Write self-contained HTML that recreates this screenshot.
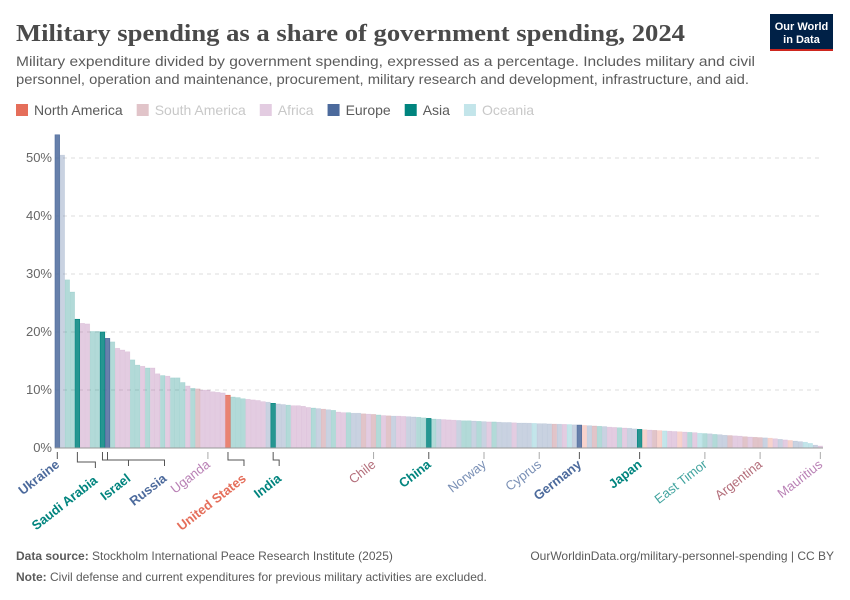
<!DOCTYPE html>
<html><head><meta charset="utf-8"><style>
body{margin:0;background:#fff;font-family:"Liberation Sans",sans-serif;}
#wrap{position:relative;width:850px;height:600px;overflow:hidden;}
</style></head><body>
<div id="wrap">
<svg id="svg" width="850" height="600" xmlns="http://www.w3.org/2000/svg">
<text x="16" y="41" font-family="Liberation Serif,serif" font-size="24" font-weight="bold" fill="#4a4a4a" textLength="669" lengthAdjust="spacingAndGlyphs">Military spending as a share of government spending, 2024</text>
<text x="16" y="66" font-size="14" fill="#5b5b5b" textLength="739" lengthAdjust="spacingAndGlyphs">Military expenditure divided by government spending, expressed as a percentage. Includes military and civil</text>
<text x="16" y="84" font-size="14" fill="#5b5b5b" textLength="733" lengthAdjust="spacingAndGlyphs">personnel, operation and maintenance, procurement, military research and development, infrastructure, and aid.</text>
<g>
<rect x="770" y="14" width="63" height="37" fill="#002147"/>
<rect x="770" y="49" width="63" height="2" fill="#ce261e"/>
<text x="801.5" y="30" font-size="11" fill="#fff" text-anchor="middle" font-weight="bold">Our World</text>
<text x="801.5" y="43" font-size="11" fill="#fff" text-anchor="middle" font-weight="bold">in Data</text>
</g>
<g id="legend"></g>
<g id="grid"></g>
<g id="bars"></g>
<g id="labels"></g>
<text x="16" y="560" font-size="12" fill="#5b5b5b"><tspan font-weight="bold">Data source:</tspan> Stockholm International Peace Research Institute (2025)</text>
<text x="834" y="560" font-size="12" fill="#5b5b5b" text-anchor="end">OurWorldinData.org/military-personnel-spending | CC BY</text>
<text x="16" y="581" font-size="12" fill="#5b5b5b"><tspan font-weight="bold">Note:</tspan> Civil defense and current expenditures for previous military activities are excluded.</text>
</svg>
</div>
<script>
const values=[54,50.5,29,26.9,22.2,21.5,21.4,20.1,20.1,20.0,18.9,18.3,17.2,16.9,16.6,15.2,14.3,14.1,13.8,13.8,12.8,12.5,12.4,12.1,12.1,11.3,10.7,10.3,10.2,10.0,10.0,9.7,9.6,9.5,9.1,8.8,8.7,8.5,8.4,8.3,8.2,8.0,7.9,7.7,7.6,7.5,7.4,7.3,7.3,7.2,
7.0,6.9,6.8,6.7,6.6,6.5,6.2,6.1,6.1,6.0,6.0,5.9,5.85,5.8,5.7,5.6,5.55,5.5,5.5,5.45,5.4,5.35,5.3,5.2,5.1,5.0,4.95,4.9,4.85,4.8,4.75,4.7,4.7,4.65,4.6,4.55,4.5,4.5,4.45,4.4,4.4,4.35,4.3,4.3,4.28,4.25,4.2,4.2,4.15,4.12,
4.1,4.08,4.05,4.0,3.95,3.9,3.85,3.8,3.75,3.7,3.6,3.55,3.5,3.45,3.4,3.3,3.2,3.15,3.1,3.05,3.0,2.95,2.9,2.85,2.8,2.75,2.7,2.65,2.55,2.5,2.45,2.35,2.3,2.2,2.15,2.1,2.05,1.95,1.9,1.85,1.8,1.75,1.7,1.6,1.5,1.4,1.3,1.2,1.1,1.0,0.8,0.5,0.35];
const regionCodes="EEAAAFFAAAEAFFFAAFAFFAFAAAFASFFFFFNAAAFFFFEAEEAFFFFAESEAFFAEESFSAFSEFFEEAAFAEFFFEAAEAAFAEEEFEEEOFEESEFOEENESAEFFAFEEFNFSNOFFNFAFOEEAEESFFSFSAENFEFNEEOOEFENFF";
const highlighted=[0,4,9,10,34,43,74,104,116];
const labelNames=["Ukraine","Saudi Arabia","Israel","Russia","Uganda","United States","India","Chile","China","Norway","Cyprus","Germany","Japan","East Timor","Argentina","Mauritius"];
const labelIndex=[0,4,9,10,30,34,43,63,74,85,96,104,116,129,140,152];
const labelRegion=["E","A","A","E","F","N","A","S","A","E","E","E","A","A","S","F"];
const yTicks=[0,10,20,30,40,50];
const legendNames=["North America","South America","Africa","Europe","Asia","Oceania"];
const legendCodes=["N","S","F","E","A","O"];
const colors={N:"#e56e5a",S:"#9a3c4d",F:"#a2559c",E:"#4c6a9c",A:"#00847e",O:"#38aaba"};
const NS="http://www.w3.org/2000/svg";
const X0=55,STEP=5.02,BW=4.6,Y0=448,PX=5.8;
const xS=i=>X0+i*STEP;
const yS=v=>Y0-v*PX;
function mk(tag,attrs,parent){const e=document.createElementNS(NS,tag);for(const k in attrs)e.setAttribute(k,attrs[k]);parent.appendChild(e);return e;}
const regions=regionCodes.split("");
labelIndex.forEach((ix,j)=>{regions[ix]=labelRegion[j];});
const lg=document.getElementById("legend");let lx=16;
legendNames.forEach((n,i)=>{
 const g=mk("g",{},lg);
 
 
 const hl=["N","E","A"].includes(legendCodes[i]);
 mk("rect",{x:lx,y:104,width:12,height:12,fill:colors[legendCodes[i]],opacity:hl?1:0.3},g);
 const t=mk("text",{x:lx+18,y:115,"font-size":14,fill:hl?"#5b5b5b":"#c8c8c8"},g);t.textContent=n;
 lx+=18+t.getComputedTextLength()+14;
});
const gg=document.getElementById("grid");
yTicks.forEach(v=>{
 const y=yS(v);
 if(v>0){const l=mk("line",{x1:55,x2:822,y1:y,y2:y,stroke:"#ddd","stroke-dasharray":"4,4"},gg);
 
 }
 const t=mk("text",{x:52,y:y+4,"font-size":13,fill:"#666","text-anchor":"end"},gg);
 
 
 t.textContent=v+"%";
});
const bg=document.getElementById("bars");
values.forEach((v,i)=>{
 const r=regions[i]||"F";const hl=highlighted.includes(i);
 const b=mk("rect",{x:xS(i),y:yS(v),width:BW,height:Y0-yS(v),fill:colors[r],"fill-opacity":hl?0.85:0.3,stroke:colors[r],"stroke-opacity":hl?1:0.15,"stroke-width":0.6},bg);
 
 
});
mk("line",{x1:55,x2:823,y1:Y0,y2:Y0,stroke:"#999"},bg);
const lbl=document.getElementById("labels");
const offs={"Saudi Arabia":[18,16],"Israel":[26,14],"Russia":[57,14],"United States":[16,14],"India":[6,14]};
labelNames.forEach((n,j)=>{
 const ix=labelIndex[j];const cx=xS(ix)+BW/2;const hl=highlighted.includes(ix);
 const col=colors[labelRegion[j]];
 const o=offs[n]||[0,0];
 const tl=mk("path",{d:o[0]?`M${cx} 452 V${452+o[1]-6} H${cx+o[0]} V${452+o[1]}`:`M${cx} 452 V459`,fill:"none",stroke:hl?"#555":"#aaa"},lbl);
 
 
 const ax=cx+o[0]+3,ay=466+o[1];
 const t=mk("text",{x:ax,y:ay,"font-size":13,fill:col,"fill-opacity":hl?1:0.75,"text-anchor":"end","font-weight":hl?"bold":"normal",transform:`rotate(-38 ${ax} ${ay})`},lbl);
 
 
 t.textContent=n;
});
</script>
</body></html>
